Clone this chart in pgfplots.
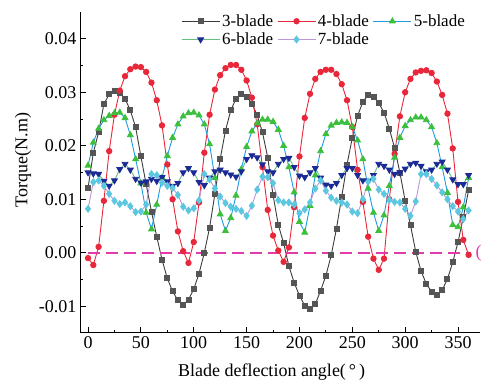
\documentclass[border=0pt]{standalone}
\usepackage{pgfplots}
\pgfplotsset{compat=1.18}
\usepackage{pgfplotstable}
\usepackage{fontspec}
\setmainfont{Liberation Serif}
\definecolor{cThree}{RGB}{60,60,60}
\definecolor{cThreeM}{RGB}{85,85,85}
\definecolor{cFour}{RGB}{232,40,58}
\definecolor{cFiveL}{RGB}{30,156,224}
\definecolor{cFiveM}{RGB}{60,192,60}
\definecolor{cSixL}{RGB}{100,190,128}
\definecolor{cSixM}{RGB}{28,42,150}
\definecolor{cSevenL}{RGB}{190,150,216}
\definecolor{cSevenM}{RGB}{92,200,224}
\definecolor{cZero}{RGB}{226,60,170}
\pgfplotstableread{
deg b3 b4 b5 b6 b7
0 0.0121 -0.0010 0.0163 0.0150 0.0082
5 0.0187 -0.0023 0.0206 0.0148 0.0132
10 0.0225 0.0011 0.0232 0.0147 0.0135
15 0.0278 0.0097 0.0248 0.0134 0.0125
20 0.0296 0.0190 0.0256 0.0125 0.0110
25 0.0303 0.0258 0.0261 0.0135 0.0097
30 0.0299 0.0303 0.0262 0.0156 0.0091
35 0.0288 0.0330 0.0252 0.0166 0.0094
40 0.0266 0.0343 0.0220 0.0155 0.0087
45 0.0235 0.0348 0.0175 0.0138 0.0076
50 0.0180 0.0347 0.0130 0.0131 0.0077
55 0.0128 0.0338 0.0075 0.0133 0.0090
60 0.0077 0.0318 0.0044 0.0138 0.0147
65 0.0030 0.0285 0.0090 0.0134 0.0145
70 -0.0013 0.0238 0.0140 0.0141 0.0131
75 -0.0048 0.0165 0.0181 0.0133 0.0125
80 -0.0072 0.0100 0.0215 0.0125 0.0121
85 -0.0089 0.0040 0.0240 0.0130 0.0108
90 -0.0097 0.0003 0.0255 0.0150 0.0086
95 -0.0088 -0.0019 0.0261 0.0158 0.0079
100 -0.0068 0.0020 0.0262 0.0150 0.0083
105 -0.0039 0.0094 0.0257 0.0132 0.0098
110 0.0000 0.0187 0.0240 0.0126 0.0147
115 0.0047 0.0258 0.0203 0.0140 0.0137
120 0.0110 0.0305 0.0140 0.0152 0.0120
125 0.0175 0.0332 0.0072 0.0155 0.0105
130 0.0228 0.0345 0.0041 0.0150 0.0093
135 0.0266 0.0351 0.0065 0.0146 0.0086
140 0.0288 0.0351 0.0107 0.0142 0.0082
145 0.0297 0.0342 0.0156 0.0152 0.0078
150 0.0292 0.0322 0.0198 0.0175 0.0069
155 0.0279 0.0290 0.0227 0.0182 0.0088
160 0.0257 0.0240 0.0242 0.0178 0.0118
165 0.0225 0.0160 0.0249 0.0165 0.0142
170 0.0178 0.0080 0.0249 0.0152 0.0141
175 0.0108 0.0032 0.0245 0.0150 0.0130
180 0.0052 0.0004 0.0230 0.0166 0.0098
185 0.0018 -0.0017 0.0200 0.0175 0.0094
190 -0.0025 0.0010 0.0160 0.0177 0.0094
195 -0.0056 0.0085 0.0113 0.0160 0.0090
200 -0.0080 0.0180 0.0058 0.0144 0.0074
205 -0.0099 0.0252 0.0038 0.0141 0.0081
210 -0.0105 0.0297 0.0088 0.0150 0.0094
215 -0.0096 0.0325 0.0145 0.0158 0.0120
220 -0.0071 0.0338 0.0190 0.0140 0.0135
225 -0.0043 0.0342 0.0222 0.0127 0.0116
230 -0.0005 0.0342 0.0238 0.0125 0.0103
235 0.0045 0.0334 0.0243 0.0130 0.0097
240 0.0105 0.0315 0.0244 0.0145 0.0094
245 0.0165 0.0285 0.0243 0.0158 0.0090
250 0.0215 0.0235 0.0235 0.0158 0.0077
255 0.0256 0.0155 0.0210 0.0145 0.0074
260 0.0282 0.0095 0.0175 0.0135 0.0100
265 0.0295 0.0030 0.0120 0.0134 0.0133
270 0.0292 -0.0011 0.0075 0.0145 0.0138
275 0.0280 -0.0032 0.0041 0.0166 0.0118
280 0.0262 -0.0011 0.0070 0.0162 0.0110
285 0.0232 0.0100 0.0125 0.0155 0.0099
290 0.0196 0.0185 0.0178 0.0147 0.0095
295 0.0150 0.0255 0.0215 0.0150 0.0094
300 0.0097 0.0300 0.0237 0.0157 0.0082
305 0.0052 0.0325 0.0248 0.0166 0.0069
310 0.0002 0.0337 0.0253 0.0168 0.0096
315 -0.0034 0.0340 0.0253 0.0162 0.0147
320 -0.0058 0.0341 0.0248 0.0152 0.0147
325 -0.0073 0.0336 0.0235 0.0155 0.0138
330 -0.0079 0.0320 0.0205 0.0166 0.0126
335 -0.0070 0.0295 0.0160 0.0170 0.0113
340 -0.0049 0.0260 0.0112 0.0155 0.0100
345 -0.0018 0.0195 0.0052 0.0137 0.0087
350 0.0020 0.0095 0.0048 0.0128 0.0077
355 0.0066 0.0024 0.0085 0.0128 0.0063
360 0.0117 -0.0004 0.0140 0.0145 0.0079
}\datatable
\pgfplotstableread{
deg zero
0 0
362 0
}\zerotable
\begin{document}
\begin{tikzpicture}
\begin{axis}[
  scale only axis,
  width=400pt, height=321pt,
  xmin=-7.6, xmax=370.8,
  ymin=-0.015, ymax=0.045,
  axis lines=left,
  axis line style={-, line width=1pt},
  tick align=inside,
  major tick length=6pt, minor tick length=3pt,
  tick style={line width=0.9pt, black},
  xtick={0,50,...,350},
  ytick={-0.01,0,0.01,0.02,0.03,0.04},
  minor x tick num=1,
  minor y tick num=1,
  scaled y ticks=false,
  /pgf/number format/assume math mode=true,
  yticklabel style={/pgf/number format/.cd, fixed, fixed zerofill, precision=2},
  ticklabel style={font=\fontsize{18}{20}\selectfont},
  xlabel={Blade deflection angle(\,°\,)},
  ylabel={Torque(N.m)},
  label style={font=\fontsize{18}{20}\selectfont},
  xlabel style={at={(axis description cs:0.479,-0.1215)}, anchor=center},
  ylabel style={at={(axis description cs:-0.1425,0.539)}, anchor=center},
  clip=false,
  legend columns=3,
  legend cell align=left,
  legend style={at={(axis description cs:0.61,1.005)}, anchor=north, draw=none, fill=none,
    font=\fontsize{17}{19}\selectfont, /tikz/every even column/.append style={column sep=2pt},
    row sep=1pt},
  legend image code/.code={
    \draw[mark repeat=2,mark phase=2,#1] plot coordinates {(0pt,0pt) (19pt,0pt) (38pt,0pt)};},
  every axis plot/.append style={line width=0.9pt},
]
\addplot[color=cThree, mark=square*, mark size=2.5pt, mark options={fill=cThreeM, draw=cThreeM}] table[x=deg, y=b3] {\datatable};
\addlegendentry{3-blade}
\addplot[color=cFour, mark=*, mark size=2.7pt, mark options={fill=cFour, draw=cFour}] table[x=deg, y=b4] {\datatable};
\addlegendentry{4-blade}
\addplot[color=cFiveL, mark=triangle*, mark size=3.3pt, mark options={fill=cFiveM, draw=cFiveM}] table[x=deg, y=b5] {\datatable};
\addlegendentry{5-blade}
\addplot[color=cSixL, mark=triangle*, mark size=3.3pt, mark options={fill=cSixM, draw=cSixM, rotate=180}] table[x=deg, y=b6] {\datatable};
\addlegendentry{6-blade}
\addplot[color=cSevenL, mark=diamond*, mark size=3.4pt, mark options={fill=cSevenM, draw=cSevenM}] table[x=deg, y=b7] {\datatable};
\addlegendentry{7-blade}
\addplot[forget plot, color=cZero, line width=1.8pt, dash pattern=on 12pt off 6pt] table[x=deg, y=zero] {\zerotable};
\node[anchor=west, inner sep=0pt, text=cZero, font=\fontsize{18}{20}\selectfont] at (axis cs:366.5,0) {(};
\end{axis}
\pgfresetboundingbox
\path[use as bounding box] ([xshift=-80pt,yshift=-52pt]current axis.south west) rectangle ([xshift=1pt,yshift=12pt]current axis.north east);
\end{tikzpicture}
\end{document}
